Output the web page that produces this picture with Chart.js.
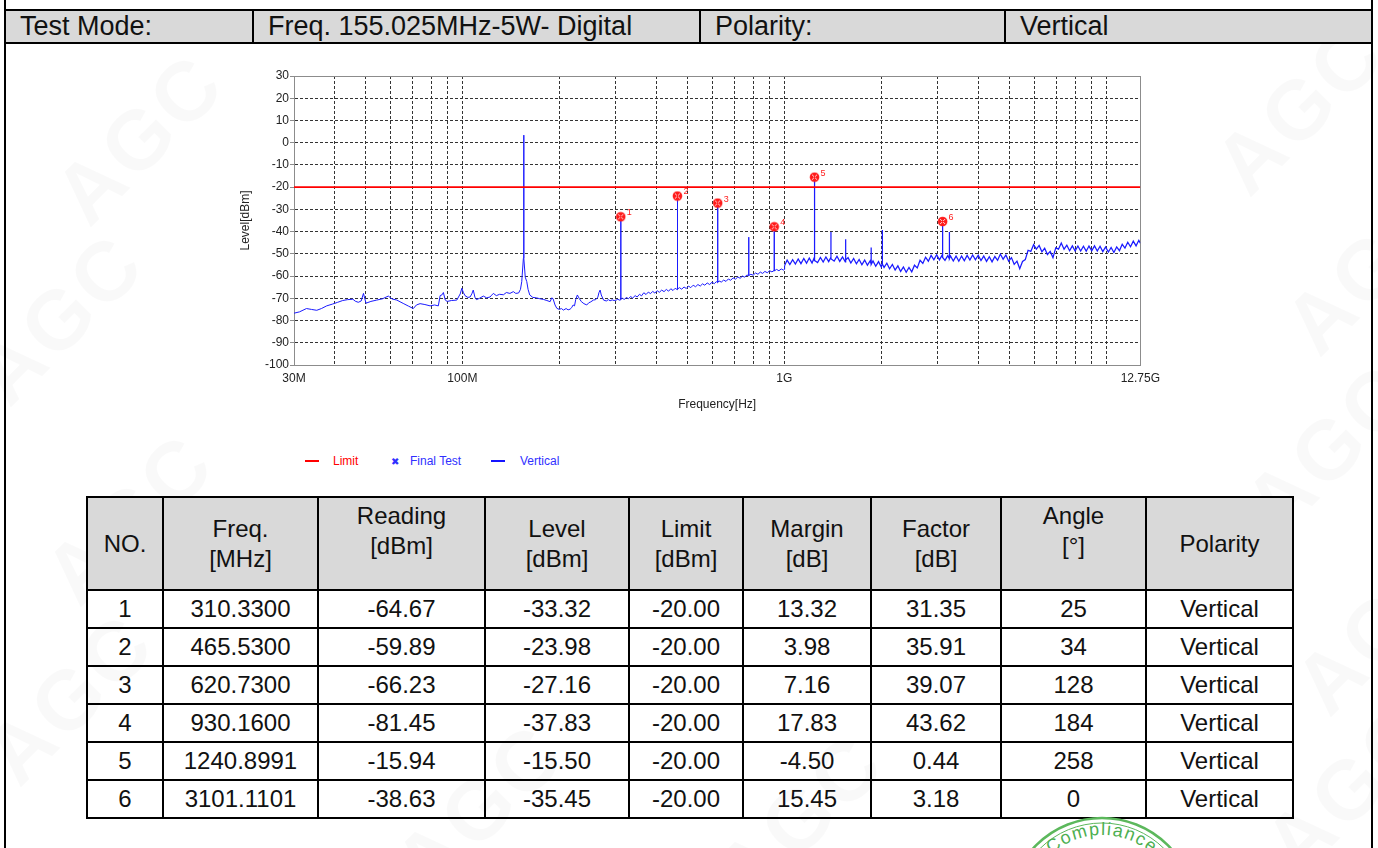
<!DOCTYPE html>
<html>
<head>
<meta charset="utf-8">
<title>Radiated Spurious Emission - 155.025MHz Vertical</title>
<script src="https://cdn.jsdelivr.net/npm/chart.js@4.4.1/dist/chart.umd.min.js"></script>
<style>
    html, body { margin: 0; padding: 0; }
    body {
        width: 1378px; height: 848px; overflow: hidden; position: relative;
        background: #fff; color: #111;
        font-family: Arial, "Liberation Sans", sans-serif;
    }
    .edge { position: absolute; top: 0; width: 2px; height: 848px; background: #000; }
    .wm {
        position: absolute; font-weight: bold; font-size: 84px; color: rgba(0, 0, 0, 0.022);
        transform: rotate(-45deg); white-space: nowrap; letter-spacing: 4px;
    }
    #head { position: absolute; left: 4px; top: 9px; border-collapse: collapse; table-layout: fixed; }
    #head td {
        border: 2px solid #000; background: #d9d9d9; height: 31px; padding: 0 0 0 14px;
        font-size: 27px; line-height: 31px; white-space: nowrap;
    }
    #plot { position: absolute; left: 200px; top: 60px; width: 966px; height: 355px; }
    .lg { position: absolute; top: 453px; font-size: 12px; line-height: 16px; white-space: nowrap; }
    .lg i { position: absolute; top: 7px; height: 2px; }
    #result { position: absolute; left: 86px; top: 496px; border-collapse: collapse; table-layout: fixed; }
    #result th, #result td {
        border: 2px solid #000; text-align: center; font-size: 24px; font-weight: normal;
        padding: 0; line-height: 30px;
    }
    #result th { background: #d9d9d9; height: 88px; }
    #result th.hi { vertical-align: top; padding-top: 3px; }
    #result td { height: 36px; }
    #stamp { position: absolute; left: 1000px; top: 800px; }
</style>
</head>
<body>
<div class="edge" style="left:4px"></div>
<div class="edge" style="left:1371px"></div>

<div class="wm" style="left:40px;top:90px">AGC</div>
<div class="wm" style="left:-40px;top:270px">AGC</div>
<div class="wm" style="left:30px;top:470px">AGC</div>
<div class="wm" style="left:-30px;top:650px">AGC</div>
<div class="wm" style="left:1200px;top:60px">AGC</div>
<div class="wm" style="left:1270px;top:220px">AGC</div>
<div class="wm" style="left:1230px;top:400px">AGC</div>
<div class="wm" style="left:1280px;top:580px">AGC</div>
<div class="wm" style="left:1250px;top:740px">AGC</div>
<div class="wm" style="left:380px;top:760px">AGC</div>
<div class="wm" style="left:700px;top:770px">AGC</div>

<table id="head">
    <colgroup><col style="width:248px"><col style="width:447px"><col style="width:305px"><col style="width:367px"></colgroup>
    <tr><td>Test Mode:</td><td>Freq. 155.025MHz-5W- Digital</td><td>Polarity:</td><td>Vertical</td></tr>
</table>

<div id="plot"><canvas id="spectrum"></canvas></div>

<div class="lg" style="left:305px;color:#ff0000"><i style="left:0;width:14px;background:#ff0000"></i><span style="margin-left:28px">Limit</span></div>
<div class="lg" style="left:391px;color:#3030ff"><span style="font-size:10px">&#10006;</span><span style="margin-left:11px">Final Test</span></div>
<div class="lg" style="left:491px;color:#3030ff"><i style="left:0;width:14px;background:#1515ff"></i><span style="margin-left:29px">Vertical</span></div>

<table id="result">
    <colgroup>
        <col style="width:76px"><col style="width:155px"><col style="width:167px"><col style="width:144px"><col style="width:114px">
        <col style="width:128px"><col style="width:130px"><col style="width:145px"><col style="width:147px">
    </colgroup>
    <thead id="result-head"></thead>
    <tbody id="result-body"></tbody>
</table>

<svg id="stamp" width="200" height="48" viewBox="1000 800 200 48">
    <circle cx="1102" cy="911" r="93" fill="none" stroke="#5cb85c" stroke-width="2.5"/>
    <circle cx="1102" cy="911" r="88" fill="none" stroke="#5cb85c" stroke-width="1"/>
    <path id="stamp-arc" d="M 1026 911 A 76 76 0 0 1 1178 911" fill="none"/>
    <text fill="#4caf50" font-size="18" letter-spacing="1.5" font-family="Arial, sans-serif">
        <textPath href="#stamp-arc" startOffset="50%" text-anchor="middle">Compliance</textPath>
    </text>
</svg>

<script>
// Axis ticks
const levelTicks = [30, 20, 10, 0, -10, -20, -30, -40, -50, -60, -70, -80, -90, -100];
const freqGrid = [30, 40, 50, 60, 70, 80, 90, 100, 200, 300, 400, 500, 600, 700, 800, 900,
    1000, 2000, 3000, 4000, 5000, 6000, 7000, 8000, 9000, 10000, 12750];
const freqLabelValues = [30, 100, 1000, 12750];
const freqLabelText = ['30M', '100M', '1G', '12.75G'];

// Limit line (dBm)
const limitFreq = [30, 12750];
const limitLevel = [-20, -20];

// Final test points
const finalNo = [1, 2, 3, 4, 5, 6];
const finalFreq = [310.33, 465.53, 620.73, 930.16, 1240.8991, 3101.1101];
const finalReading = [-64.67, -59.89, -66.23, -81.45, -15.94, -38.63];
const finalLevel = [-33.32, -23.98, -27.16, -37.83, -15.50, -35.45];
const finalLimit = [-20.00, -20.00, -20.00, -20.00, -20.00, -20.00];
const finalMargin = [13.32, 3.98, 7.16, 17.83, -4.50, 15.45];
const finalFactor = [31.35, 35.91, 39.07, 43.62, 0.44, 3.18];
const finalAngle = [25, 34, 128, 184, 258, 0];
const finalPolarity = ['Vertical', 'Vertical', 'Vertical', 'Vertical', 'Vertical', 'Vertical'];

// Vertical polarity sweep: [MHz, dBm]
const vertical = [
    [30, -76.7], [31.2, -76.1], [32.8, -74.6], [34.0, -75.0], [35.3, -75.4], [36.5, -74.6], [37.9, -73.4],
    [39.5, -72.6], [41.0, -71.8], [42.5, -71.0], [44.0, -70.6], [45.7, -70.4], [46.5, -71.3], [47.5, -71.8],
    [48.5, -71.2], [49.3, -67.8], [50.2, -72.2], [52.0, -71.4], [54.2, -70.8], [56.5, -70.2], [58.9, -69.0],
    [60.5, -70.3], [62.6, -70.8], [65.5, -72.3], [68.0, -73.5], [70.4, -74.6], [72.0, -73.0], [73.9, -72.4],
    [76.5, -72.8], [79.4, -73.4], [82.0, -73.0], [84.2, -73.4], [85.3, -68.8], [86.5, -68.4], [87.3, -67.4],
    [88.5, -70.8], [89.7, -71.4], [92.5, -71.0], [96.1, -70.8], [98.5, -68.0], [99.6, -65.5], [100.8, -67.5],
    [101.9, -68.8], [104.0, -69.6], [105.7, -69.4], [107.0, -68.0], [108.1, -66.3], [109.4, -69.5], [110.6, -70.6],
    [113.0, -70.0], [116.2, -69.0], [119.0, -69.8], [121.9, -69.4], [123.3, -68.6], [124.8, -67.8], [127.5, -68.8],
    [130.5, -68.2], [134.1, -68.4], [137.0, -67.4], [140.5, -67.8], [144.0, -67.0], [146.5, -67.8], [149.5, -67.6],
    [151.5, -66.0], [152.9, -62.5], [154.7, -52.0], [155.02, 3.4], [155.35, -52.0], [156.8, -60.5], [158.5, -62.5],
    [160.0, -66.0], [161.9, -68.5], [165.5, -69.6], [170.0, -69.8], [174.0, -70.2], [178.5, -70.5], [183.0, -71.0],
    [187.3, -71.5], [189.5, -69.8], [191.3, -70.2], [194.0, -73.0], [196.5, -74.5], [200.0, -75.0], [203.0, -74.6],
    [206.0, -75.3], [210.0, -74.6], [213.0, -75.2], [216.0, -74.9], [218.5, -74.2], [220.8, -73.0], [223.0, -73.4],
    [225.0, -70.5], [227.6, -68.5], [230.5, -70.0], [234.2, -71.5], [238.5, -72.4], [243.4, -73.0], [247.0, -72.0],
    [250.5, -71.6], [255.2, -70.8], [259.5, -70.6], [263.5, -69.5], [265.5, -67.5], [267.8, -66.3], [270.0, -68.5],
    [274.5, -70.8], [280.0, -71.2], [284.0, -70.6], [287.6, -71.1], [292.0, -70.7], [296.0, -71.0], [300.5, -70.8],
    [304.0, -70.4], [307.0, -70.8], [309.9, -70.7], [310.33, -33.32], [310.8, -70.5],
    [314, -69.8], [318, -70.6], [323, -69.6], [328, -70.2], [333, -69.2], [338, -69.9], [344, -68.8], [349, -69.4],
    [355, -68.2], [360, -68.9], [366, -67.5], [372, -68.3], [378, -67.2], [384, -67.9], [390, -66.9], [396, -67.6],
    [403, -66.6], [409, -67.3], [416, -66.3], [423, -67.0], [430, -66.0], [437, -66.8], [444, -65.7], [451, -66.5],
    [458, -65.5], [465.1, -66.1], [465.53, -23.98], [466, -65.9], [472, -65.2], [480, -65.9], [488, -64.9],
    [496, -65.6], [504, -64.5], [512, -65.2], [521, -64.1], [530, -64.8], [539, -63.8], [548, -64.5], [557, -63.5],
    [566, -64.1], [576, -63.1], [586, -63.8], [596, -62.8], [606, -63.4], [615, -62.5], [620.3, -63.0],
    [620.73, -27.16], [621.2, -62.8], [627, -62.2], [637, -62.7], [648, -61.8], [659, -62.4], [670, -61.3],
    [681, -61.9], [693, -60.8], [705, -61.4], [717, -60.4], [729, -61.0], [741, -60.0], [753, -60.5], [765, -59.5],
    [774.7, -59.9], [775.13, -42.5], [775.6, -59.7], [787, -59.2], [800, -59.6], [814, -58.6], [828, -59.2],
    [842, -58.2], [856, -58.8], [870, -57.9], [885, -58.5], [900, -57.6], [915, -58.1], [929.7, -57.5],
    [930.16, -37.83], [930.6, -57.7], [946, -57.0], [962, -57.6], [978, -56.8], [994, -57.3], [999, -57.0],
    [1002, -55.2], [1020, -52.8], [1040, -54.8], [1061, -52.6], [1082, -54.6], [1104, -52.3], [1126, -54.4],
    [1149, -52.1], [1172, -54.2], [1195, -51.9], [1219, -54.1], [1236, -52.0], [1240.5, -53.0],
    [1240.8991, -15.50], [1241.3, -53.0], [1268, -53.9], [1294, -51.6], [1320, -53.7], [1346, -51.4],
    [1373, -53.5], [1394.8, -51.6], [1395.23, -40.2], [1395.7, -52.2], [1428, -53.3], [1457, -51.1],
    [1486, -53.4], [1516, -51.4], [1546, -53.6], [1549.8, -52.6], [1550.25, -43.4], [1550.7, -52.8],
    [1577, -51.7], [1609, -54.1], [1641, -52.1], [1674, -54.5], [1707, -52.5], [1741, -54.9], [1776, -52.8],
    [1811, -55.1], [1848, -53.1], [1859.9, -54.6], [1860.3, -47.1], [1860.7, -54.8], [1885, -53.2],
    [1922, -55.6], [1961, -53.5], [2000, -55.9], [2014.9, -54.2], [2015.33, -39.3], [2015.8, -54.6],
    [2040, -56.1], [2081, -54.2], [2122, -56.7], [2165, -54.8], [2208, -57.3], [2252, -55.4], [2297, -57.9],
    [2343, -55.9], [2390, -58.3], [2438, -56.1], [2487, -58.1], [2536, -55.1], [2587, -56.3], [2639, -52.9],
    [2692, -54.3], [2745, -51.5], [2800, -53.3], [2856, -50.7], [2913, -52.7], [2972, -50.4], [3031, -52.7],
    [3092, -50.5], [3100.7, -51.8], [3101.1101, -35.45], [3101.5, -51.6], [3154, -52.9], [3217, -50.8],
    [3255.1, -52.3], [3255.53, -40.2], [3256, -52.1], [3281, -50.9], [3347, -53.2], [3414, -51.0],
    [3482, -53.3], [3551, -51.0], [3622, -53.1], [3695, -50.7], [3769, -52.8], [3844, -50.5], [3921, -52.7],
    [4000, -50.6], [4080, -53.0], [4161, -51.0], [4245, -53.4], [4330, -51.3], [4416, -53.6], [4505, -51.2],
    [4595, -52.9], [4687, -50.1], [4780, -52.4], [4876, -50.5], [4973, -53.3], [5073, -51.7], [5174, -54.7],
    [5278, -53.3], [5383, -56.7], [5491, -53.4], [5601, -52.6], [5713, -48.4], [5827, -48.9], [5944, -45.9],
    [6062, -47.9], [6184, -46.2], [6307, -49.1], [6433, -47.5], [6562, -50.3], [6693, -48.9], [6827, -51.7],
    [6964, -47.3], [7103, -47.9], [7245, -45.1], [7390, -47.9], [7538, -46.1], [7689, -48.6], [7842, -46.4],
    [7999, -48.7], [8159, -46.5], [8322, -48.7], [8489, -46.6], [8659, -48.8], [8832, -46.5], [9009, -48.6],
    [9189, -46.4], [9373, -48.7], [9560, -46.6], [9751, -49.0], [9946, -46.9], [10145, -49.2], [10348, -47.1],
    [10555, -49.4], [10766, -46.9], [10982, -48.6], [11201, -45.7], [11425, -47.4], [11654, -44.8],
    [11887, -46.8], [12125, -44.3], [12367, -46.4], [12615, -43.9], [12750, -45.2]
];

// --- Result table ---
const headCells = [
    ['NO.', ''], ['Freq.<br>[MHz]', ''], ['Reading<br>[dBm]', 'hi'], ['Level<br>[dBm]', ''], ['Limit<br>[dBm]', ''],
    ['Margin<br>[dB]', ''], ['Factor<br>[dB]', ''], ['Angle<br>[°]', 'hi'], ['Polarity', '']
];
document.getElementById('result-head').innerHTML =
    '<tr>' + headCells.map(([t, c]) => `<th class="${c}">${t}</th>`).join('') + '</tr>';
document.getElementById('result-body').innerHTML = finalNo.map((n, i) => '<tr>' + [
    n, finalFreq[i].toFixed(4), finalReading[i].toFixed(2), finalLevel[i].toFixed(2), finalLimit[i].toFixed(2),
    finalMargin[i].toFixed(2), finalFactor[i].toFixed(2), finalAngle[i], finalPolarity[i]
].map(v => `<td>${v}</td>`).join('') + '</tr>').join('');

// --- Chart ---
const FONT = 'Arial, "Liberation Sans", sans-serif';

// red hatched marker used for final test points
function makeMarker() {
    const c = document.createElement('canvas');
    c.width = 11; c.height = 11;
    const g = c.getContext('2d');
    g.fillStyle = '#ff1a1a';
    g.beginPath(); g.arc(5.5, 5.5, 4.8, 0, Math.PI * 2); g.fill();
    g.strokeStyle = 'rgba(255,255,255,0.85)';
    g.lineWidth = 1;
    g.beginPath();
    g.moveTo(3, 3); g.lineTo(8, 8); g.moveTo(8, 3); g.lineTo(3, 8);
    g.stroke();
    g.fillStyle = '#ff1a1a';
    g.fillRect(5, 5, 1, 1);
    return c;
}

// gray frame round the plot area
const plotFrame = {
    id: 'plotFrame',
    beforeDatasetsDraw(chart) {
        const {ctx, chartArea: a} = chart;
        ctx.save();
        ctx.strokeStyle = '#8c8c8c';
        ctx.lineWidth = 1;
        ctx.strokeRect(Math.round(a.left) + 0.5, Math.round(a.top) + 0.5,
            Math.round(a.right - a.left), Math.round(a.bottom - a.top));
        ctx.restore();
    }
};

// numbers next to the final test markers
const markerNumbers = {
    id: 'markerNumbers',
    afterDatasetsDraw(chart) {
        const {ctx} = chart;
        const meta = chart.getDatasetMeta(0);
        ctx.save();
        ctx.fillStyle = '#ff2020';
        ctx.font = '9px ' + FONT;
        ctx.textBaseline = 'middle';
        meta.data.forEach((pt, i) => ctx.fillText(String(finalNo[i]), pt.x + 6, pt.y - 4));
        ctx.restore();
    }
};

new Chart(document.getElementById('spectrum'), {
    type: 'line',
    data: {
        datasets: [{
            label: 'Final Test',
            data: finalFreq.map((f, i) => ({x: f, y: finalLevel[i]})),
            showLine: false,
            pointStyle: makeMarker(),
            pointRadius: 5
        }, {
            label: 'Limit',
            data: limitFreq.map((f, i) => ({x: f, y: limitLevel[i]})),
            borderColor: '#ff0000',
            borderWidth: 1.6,
            pointRadius: 0
        }, {
            label: 'Vertical',
            data: vertical.map(([f, l]) => ({x: f, y: l})),
            borderColor: '#1a1aff',
            borderWidth: 1,
            pointRadius: 0,
            tension: 0,
            // sweep above 1G is a denser noise band
            segment: {
                borderWidth: ctx => (ctx.p0.parsed.x >= 1000 ? 1.25 : 1)
            }
        }]
    },
    options: {
        animation: false,
        responsive: true,
        maintainAspectRatio: false,
        layout: {padding: {top: 16, right: 20, bottom: 0, left: 0}},
        plugins: {
            legend: {display: false},
            tooltip: {enabled: false}
        },
        scales: {
            x: {
                type: 'logarithmic',
                min: 30,
                max: 12750,
                afterBuildTicks: scale => { scale.ticks = freqGrid.map(v => ({value: v})); },
                afterFit: scale => { scale.height = 50; },
                ticks: {
                    autoSkip: false,
                    maxRotation: 0,
                    padding: 6,
                    color: '#222',
                    font: {family: FONT, size: 12},
                    callback: value => {
                        const i = freqLabelValues.indexOf(value);
                        return i >= 0 ? freqLabelText[i] : '';
                    }
                },
                grid: {color: '#333', drawTicks: false},
                border: {display: true, color: '#8c8c8c', dash: [3, 2]},
                title: {
                    display: true,
                    text: 'Frequency[Hz]',
                    color: '#222',
                    font: {family: FONT, size: 12, lineHeight: 1.2},
                    padding: {top: 0, bottom: 3}
                }
            },
            y: {
                min: -100,
                max: 30,
                afterBuildTicks: scale => { scale.ticks = levelTicks.map(v => ({value: v})); },
                afterFit: scale => { scale.width = 94; },
                ticks: {
                    padding: 1,
                    color: '#222',
                    font: {family: FONT, size: 12}
                },
                grid: {color: '#333', tickColor: '#8c8c8c', tickLength: 4, tickBorderDash: []},
                border: {display: true, color: '#8c8c8c', dash: [3, 2]},
                title: {
                    display: true,
                    text: 'Level[dBm]',
                    color: '#222',
                    font: {family: FONT, size: 12, lineHeight: 1.2},
                    padding: {top: 38, bottom: 0}
                }
            }
        }
    },
    plugins: [plotFrame, markerNumbers]
});
</script>
</body>
</html>
